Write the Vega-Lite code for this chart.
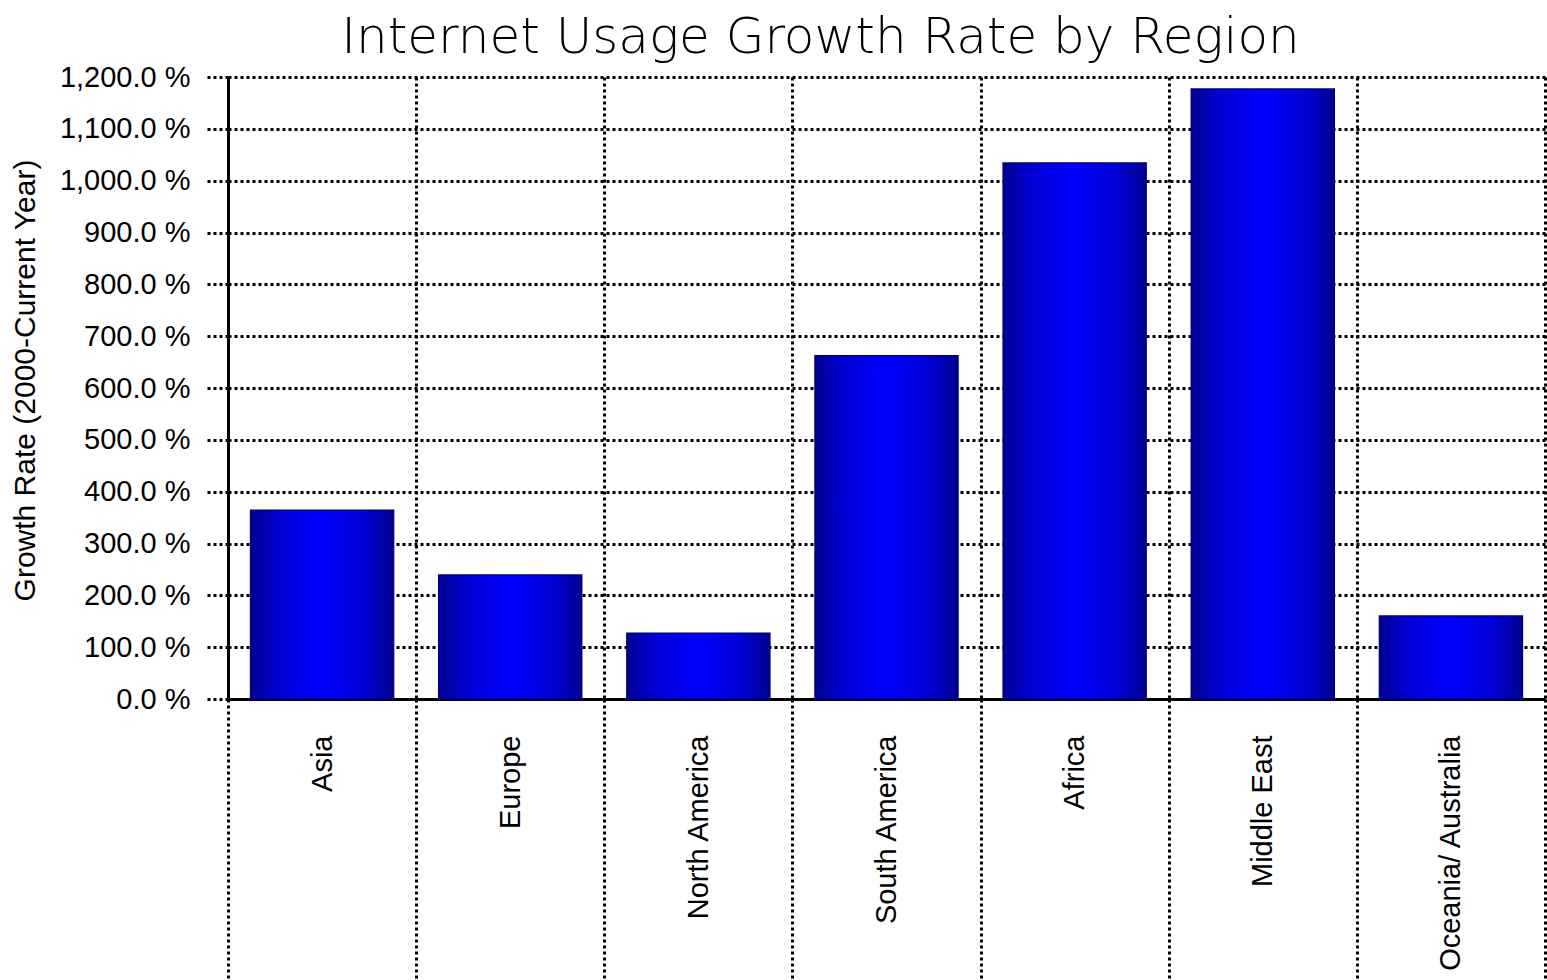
{
  "$schema": "https://vega.github.io/schema/vega-lite/v6.json",
  "autosize": "none",
  "width": 1317,
  "height": 622,
  "padding": {"left": 228, "top": 77, "right": 2, "bottom": 281},
  "background": "white",
  "title": {
    "text": "Internet Usage Growth Rate by Region",
    "font": "DejaVu Sans",
    "fontSize": 50,
    "fontWeight": 200,
    "color": "#000000",
    "anchor": "middle",
    "dx": -66,
    "offset": 0
  },
  "data": {
    "values": [
      {"region": "Asia", "growth": 364},
      {"region": "Europe", "growth": 239},
      {"region": "North America", "growth": 127},
      {"region": "South America", "growth": 662},
      {"region": "Africa", "growth": 1034},
      {"region": "Middle East", "growth": 1177},
      {"region": "Oceania/ Australia", "growth": 160}
    ]
  },
  "config": {
    "view": {"stroke": null},
    "axis": {
      "labelFont": "Liberation Sans",
      "titleFont": "Liberation Sans",
      "labelColor": "#000000",
      "titleColor": "#000000",
      "labelFontSize": 29,
      "titleFontSize": 30,
      "titleFontWeight": "normal",
      "labelLimit": 0
    }
  },
  "mark": {
    "type": "bar",
    "width": {"band": 0.76},
    "color": {
      "gradient": "linear",
      "x1": 0, "x2": 1, "y1": 0, "y2": 0,
      "stops": [
        {"offset": 0, "color": "#000090"},
        {"offset": 0.2, "color": "#0000d4"},
        {"offset": 0.5, "color": "#0000ff"},
        {"offset": 0.8, "color": "#0000d4"},
        {"offset": 1, "color": "#000090"}
      ]
    },
    "stroke": "#000080",
    "strokeWidth": 1.5
  },
  "encoding": {
    "x": {
      "field": "region",
      "type": "nominal",
      "sort": null,
      "scale": {"paddingInner": 0, "paddingOuter": 0},
      "axis": {
        "title": null,
        "labelAngle": 270,
        "labelAlign": "right",
        "labelBaseline": "middle",
        "tickBand": "extent",
        "ticks": true,
        "tickSize": 281,
        "tickColor": "#000000",
        "tickWidth": 3,
        "tickDash": [3, 3],
        "labelPadding": -245,
        "grid": true,
        "gridColor": "#000000",
        "gridWidth": 3,
        "gridDash": [3, 3],
        "gridOpacity": 1,
        "domainColor": "#000000",
        "domainWidth": 3
      }
    },
    "y": {
      "field": "growth",
      "type": "quantitative",
      "scale": {"domain": [0, 1200], "nice": false},
      "axis": {
        "title": "Growth Rate (2000-Current Year)",
        "values": [0, 100, 200, 300, 400, 500, 600, 700, 800, 900, 1000, 1100, 1200],
        "labelExpr": "format(datum.value, ',.1f') + ' %'",
        "tickSize": 23,
        "tickColor": "#000000",
        "tickWidth": 3,
        "tickDash": [3, 3],
        "labelPadding": 15,
        "grid": true,
        "gridColor": "#000000",
        "gridWidth": 3,
        "gridDash": [3, 3],
        "gridOpacity": 1,
        "domainColor": "#000000",
        "domainWidth": 3,
        "titleX": -203,
        "titleY": 303,
        "titleAngle": -90,
        "titleAlign": "center",
        "titleBaseline": "middle"
      }
    }
  }
}
